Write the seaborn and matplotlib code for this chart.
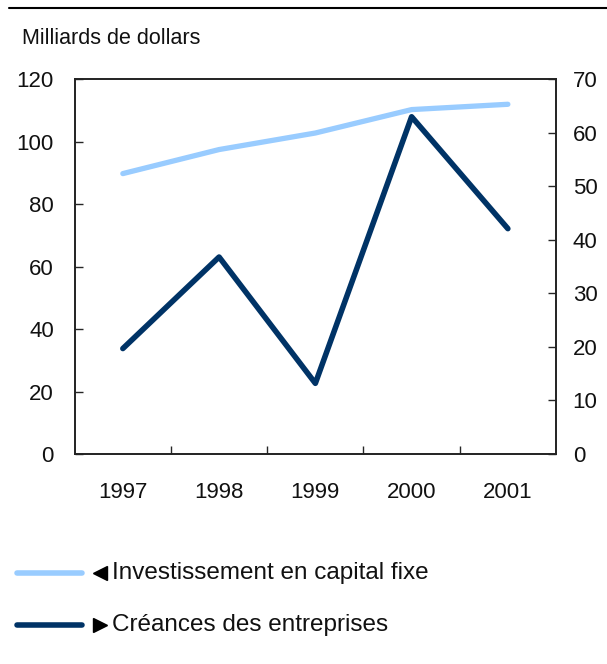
import matplotlib
matplotlib.use("Agg")
import matplotlib.pyplot as plt
import seaborn as sns
import pandas as pd
from matplotlib.lines import Line2D

years = ["1997", "1998", "1999", "2000", "2001"]
investissement = [89.8, 97.5, 102.8, 110.3, 112.0]   # left axis
creances = [19.7, 36.8, 13.2, 63.0, 42.1]            # right axis
left_ticks = [0, 20, 40, 60, 80, 100, 120]
right_ticks = [0, 10, 20, 30, 40, 50, 60, 70]
ylabel = "Milliards de dollars"
legend_labels = ["Investissement en capital fixe", "Créances des entreprises"]

sns.set_style("white")
plt.rcParams['font.family'] = ['Liberation Sans', 'DejaVu Sans']

light = "#99CCFF"
dark = "#003366"
txt = "#111111"

W, H = 607, 664
fig = plt.figure(figsize=(W / 100, H / 100), dpi=100)
ax = fig.add_axes([74.7 / W, 1 - 454 / H, (556 - 74.7) / W, (454 - 79.3) / H])
ax2 = ax.twinx()

df = pd.DataFrame({"year": range(len(years)), "inv": investissement, "cre": creances})
sns.lineplot(data=df, x="year", y="inv", ax=ax, color=light, linewidth=3.8, legend=False)
sns.lineplot(data=df, x="year", y="cre", ax=ax2, color=dark, linewidth=4.0, legend=False)

ax.set_xlim(-0.5, len(years) - 0.5)
ax.set_ylim(0, 120)
ax2.set_ylim(0, 70)
ax.set_yticks(left_ticks)
ax2.set_yticks(right_ticks)
ax.set_xticks(range(len(years)))
ax.set_xticklabels(years)
ax.set_xticks([i + 0.5 for i in range(len(years) - 1)], minor=True)
ax.tick_params(axis="x", which="major", length=0, pad=20, labelsize=16, labelcolor=txt)
ax.tick_params(axis="x", which="minor", direction="in", length=6, width=1, bottom=True)
ax.tick_params(axis="y", direction="in", length=6, width=1, left=True, labelsize=16, pad=15, labelcolor=txt)
ax2.tick_params(axis="y", direction="in", length=6, width=1, right=True, labelsize=16, pad=12, labelcolor=txt)
for a in (ax, ax2):
    a.set_xlabel("")
    a.set_ylabel("")
    for s in a.spines.values():
        s.set_color("#222222")
        s.set_linewidth(1.2)

fig.text(22 / W, 1 - 38 / H, ylabel, fontsize=15.5, va="center", ha="left", color=txt)
fig.add_artist(Line2D([9 / W, 1], [1 - 8 / H, 1 - 8 / H], color="black", linewidth=1.5))

# legend
for i, (lab, col, mk) in enumerate(zip(legend_labels, [light, dark], ["<", ">"])):
    y = 1 - (573 + i * 52) / H
    fig.add_artist(Line2D([17 / W, 82 / W], [y, y], color=col, linewidth=4))
    fig.add_artist(Line2D([100 / W], [y], marker=mk, markersize=10, color="black", linestyle="none"))
    fig.text(112 / W, y, lab, fontsize=17.5, va="center", ha="left", color=txt)

fig.savefig("out.png", dpi=100)
